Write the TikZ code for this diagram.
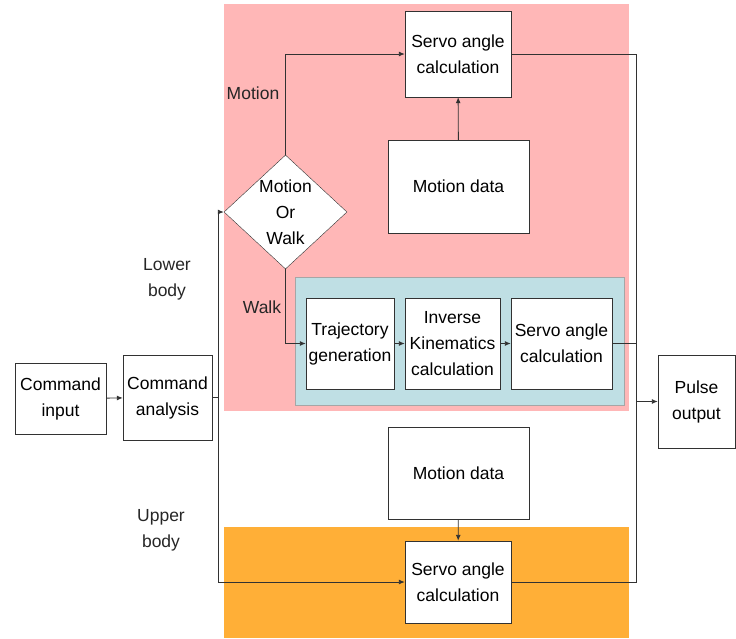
\documentclass[tikz,border=0pt]{standalone}
\usepackage{fontspec}
\setmainfont{Liberation Sans}
\usetikzlibrary{shapes.geometric,arrows.meta}

\definecolor{pinkbg}{RGB}{255,183,183}
\definecolor{orangebg}{RGB}{255,175,55}
\definecolor{bluebg}{RGB}{191,223,228}
\definecolor{linegray}{RGB}{50,50,50}

\begin{document}
\begin{tikzpicture}[x=1pt, y=-1pt, >={Latex[length=6pt,width=5pt]},
  font=\fontsize{17.5}{26}\selectfont,
  block/.style={draw=linegray, fill=white, align=center, inner sep=0pt},
  tag/.style={align=center, text=black!85},
  link/.style={draw=linegray, line width=0.9pt}]

\useasboundingbox (0,0) rectangle (736,638);

% coloured areas
\fill[pinkbg] (224,4) rectangle (629,411);
\fill[orangebg] (224,527) rectangle (629,638);
\draw[gray!70, fill=bluebg] (295,277) rectangle (624,405);

% blocks
\node[block, minimum width=91, minimum height=71] (cin) at (60.5,398.5) {Command\\input};
\node[block, minimum width=89, minimum height=85] (can) at (167.5,397.5) {Command\\analysis};
\node[block, minimum width=106, minimum height=86] (sat) at (458,54) {Servo angle\\calculation};
\node[block, minimum width=141, minimum height=93] (mdt) at (458.5,186.5) {Motion data};
\node[draw=linegray, fill=white, diamond, minimum width=123, minimum height=114, inner sep=0pt,
      label={[tag, text=black]center:Motion\\Or\\Walk}] (dia) at (285.5,212) {};
\node[block, minimum width=88, minimum height=91] (traj) at (350,343.5) {Trajectory\\generation};
\node[block, minimum width=95, minimum height=91] (ik) at (452.5,343.5) {Inverse\\Kinematics\\calculation};
\node[block, minimum width=101, minimum height=91] (sam) at (561.5,343.5) {Servo angle\\calculation};
\node[block, minimum width=77, minimum height=93] (pulse) at (696.5,401.5) {Pulse\\output};
\node[block, minimum width=141, minimum height=92] (mdb) at (458.5,473) {Motion data};
\node[block, minimum width=106, minimum height=82] (sab) at (458,582) {Servo angle\\calculation};

% side labels
\node[tag] (lmot) at (253,93) {Motion};
\node[tag] (lwalk) at (262,307) {Walk};
\node[tag] (llow) at (167,279) {Lower\\body};
\node[tag] (lup) at (161,530) {Upper\\body};

\coordinate (split) at (218,397.5);
\coordinate (bus) at (636,401.5);

% connectors
\draw[link, ->] (cin) -- (can);
\draw[link] (can.east) -- (split);
\draw[link, ->] (split) |- (dia.west);
\draw[link, ->] (split) |- (sab.west);
\draw[link, ->] (dia.north) |- (sat.west);
\draw[link, ->] (dia.south) |- (traj.west);
\draw[link, ->] (mdt) -- (sat);
\draw[link, ->] (traj) -- (ik);
\draw[link, ->] (ik) -- (sam);
\draw[link, ->] (mdb) -- (sab);
\draw[link] (sat.east) -| (bus);
\draw[link] (sam.east) -| (bus);
\draw[link] (sab.east) -| (bus);
\draw[link, ->] (bus) -- (pulse.west);

\end{tikzpicture}
\end{document}
